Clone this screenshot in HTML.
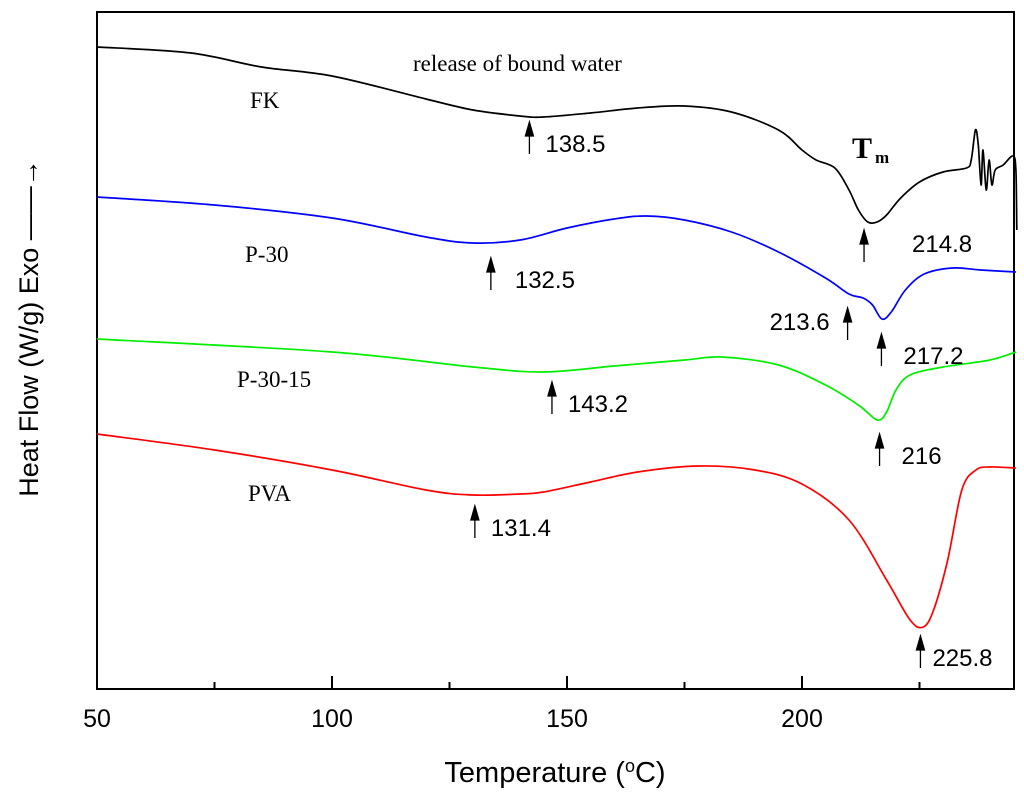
<!DOCTYPE html>
<html><head><meta charset="utf-8"><style>
body{margin:0;background:#fff}
</style></head><body>
<svg id="c" width="1024" height="796" xmlns="http://www.w3.org/2000/svg" style="font-family:'Liberation Sans',sans-serif"></svg>
<script>
const xTicks=[50,100,150,200];
const minorTicks=[75,125,175,225];
const fkT=[50,70,85,100,120,130,140,145,155,165,175,185,195,200,203,207,210,212,214,216,218,221,225,230,235,236,236.9,237.5,238.1,238.5,239.2,239.8,240.4,241.1,242.8,244.9,245.5,245.7];
const fkY=[47,53,67,76,99,110,116,117,113,108,106,112,130,150,160,168,190,210,222,222,215,198,182,172,168,160,130,145,185,150,190,160,185,170,165,156,170,230];
const blueT=[50,75,100,120,130,140,150,160,167,175,185,195,205,210,213,215,217,219,222,226,232,238,245.5];
const blueY=[197,205,218,237,243,240,228,219,216,220,232,252,278,294,298,305,319,312,290,274,268,270,272];
const greenT=[50,100,130,145,160,175,183,195,205,212,216,218,220,223,230,240,245.5];
const greenY=[339,352,367,372,366,360,357,365,385,405,420,412,390,375,367,360,352];
const redT=[50,75,100,120,130,140,145,155,165,178,190,200,210,218,223,225.8,228,231,234,237,240,245.5];
const redY=[434,450,470,490,495,494,492,482,472,466,470,484,520,580,620,627,610,560,490,470,467,468];
const peakT=[142,133.8,209.7,146.8,216.9,213.2,216.5,130.4,225.2];
const peakLabel=["138.5","132.5","213.6","143.2","217.2","214.8","216","131.4","225.8"];
const peakTip=[122,258,308,382,334,230,434,506,636];
const X0=97,X1=1014,Y0=12,Y1=689;
const xs=t=>X0+(t-50)*4.7;
const svg=document.getElementById('c');
const NS='http://www.w3.org/2000/svg';
function mk(tag,a,txt){const e=document.createElementNS(NS,tag);for(const k in a)e.setAttribute(k,a[k]);if(txt!==undefined)e.textContent=txt;svg.appendChild(e);return e;}
let e=mk('rect',{x:X0,y:Y0,width:X1-X0,height:Y1-Y0,fill:'none',stroke:'#000','stroke-width':2});


xTicks.forEach(t=>{let l=mk('line',{x1:xs(t),x2:xs(t),y1:Y1,y2:Y1-13,stroke:'#000','stroke-width':2});


let tx=mk('text',{x:xs(t),y:Y1+38,'font-size':25,'text-anchor':'middle'},String(t));

});
minorTicks.forEach(t=>{let l=mk('line',{x1:xs(t),x2:xs(t),y1:Y1,y2:Y1-7,stroke:'#000','stroke-width':2});

});
function series(T,Y,col,name){
const P=T.map((t,i)=>[xs(t),Y[i]]);
let d='M'+P[0][0].toFixed(1)+','+P[0][1];
for(let i=0;i<P.length-1;i++){const p0=P[Math.max(0,i-1)],p1=P[i],p2=P[i+1],p3=P[Math.min(P.length-1,i+2)];
const c1=[p1[0]+(p2[0]-p0[0])/6,p1[1]+(p2[1]-p0[1])/6],c2=[p2[0]-(p3[0]-p1[0])/6,p2[1]-(p3[1]-p1[1])/6];
d+=`C${c1[0].toFixed(1)},${c1[1].toFixed(1)} ${c2[0].toFixed(1)},${c2[1].toFixed(1)} ${p2[0].toFixed(1)},${p2[1]}`;}
let p=mk('path',{d:d,fill:'none',stroke:col,'stroke-width':1.7,'stroke-linejoin':'round'});

}
series(fkT,fkY,'#000','fk-curve');
series(blueT,blueY,'#0000ff','p30-curve');
series(greenT,greenY,'#00ee00','p30-15-curve');
series(redT,redY,'#ff0000','pva-curve');
const lblOff=[[16,0],[24,0],[-78,-8],[16,0],[22,0],[48,-8],[22,0],[16,0],[12,0]];
peakT.forEach((t,i)=>{const x=xs(t),y=peakTip[i];
let a=mk('path',{d:`M${x},${y}L${x-4},${y+14}L${x+4},${y+14}Z M${x},${y+12}L${x},${y+32}`,fill:'#000',stroke:'#000','stroke-width':1.3});


let tx=mk('text',{x:x+lblOff[i][0],y:y+30+lblOff[i][1],'font-size':24},peakLabel[i]);

});
const serif="font-family:'Liberation Serif',serif";
[['FK',250,108],['P-30',245,262],['P-30-15',237,387],['PVA',248,501],['release of bound water',413,71]].forEach(s=>{
let t=mk('text',{x:s[1],y:s[2],'font-size':23,style:serif},s[0]);

});
let tm=mk('text',{x:852,y:158,'font-size':30,'font-weight':'bold',style:serif},'T');


let tms=mk('text',{x:875,y:163,'font-size':17,'font-weight':'bold',style:serif},'m');


let xt=mk('text',{x:555,y:782,'font-size':29,'text-anchor':'middle'});
xt.innerHTML='Temperature (<tspan font-size="18" dy="-10">o</tspan><tspan dy="10">C)</tspan>';


let yt=mk('text',{x:0,y:0,'font-size':27,'text-anchor':'middle',transform:'translate(38,328) rotate(-90)'},'Heat Flow (W/g) Exo \u2014\u2014\u2192');


</script>
</body></html>
